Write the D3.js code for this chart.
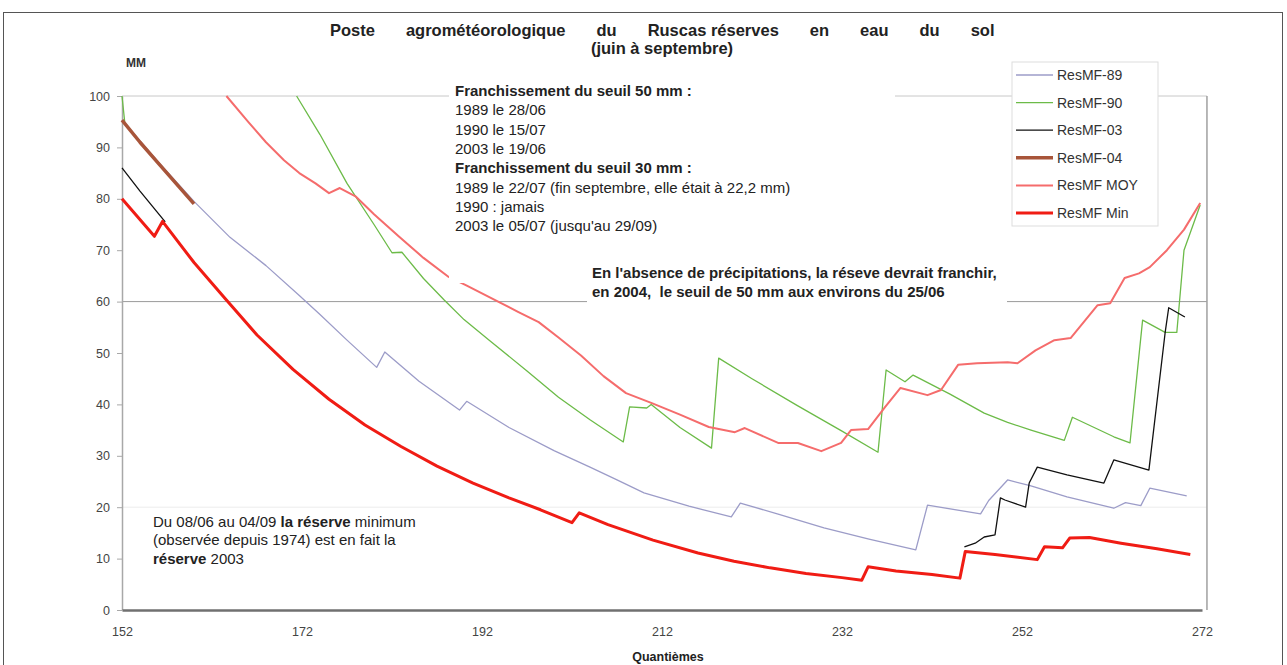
<!DOCTYPE html>
<html>
<head>
<meta charset="utf-8">
<script src="https://cdn.jsdelivr.net/npm/d3@7/dist/d3.min.js"></script>
<style>
  body { margin: 0; background: #fff; }
  svg { display: block; font-family: "Liberation Sans", Arial, sans-serif; }
</style>
</head>
<body>
<div id="graph"></div>
<script>
// day of year (quantième) -> soil water reserve in mm
const ticksX = [152, 172, 192, 212, 232, 252, 272]
const ticksY = [0, 10, 20, 30, 40, 50, 60, 70, 80, 90, 100]

const res89 = [[152,95.3],[156,87.2],[160,79.5],[164,72.5],[168,67],[171.7,61.2],[174,57.5],[177,52.5],[180.3,47.2],[181.2,50.2],[185,44.5],
  [189.5,38.9],[190.3,40.6],[195,35.5],[200,31],[204,27.8],[207,25.3],[210,22.8],[215,20.2],[219.7,18.1],[220.7,20.8],[225,18.6],
  [230,16],[235,13.8],[240.2,11.7],[241.5,20.4],[247.4,18.7],[248.3,21.3],[250.4,25.3],[252.9,24.2],[257,22],[262.2,19.8],
  [263.5,20.9],[265.2,20.3],[266.2,23.7],[270.3,22.2]]

const res90 = [[152,100],[152.3,95],[null,null],[171.4,100],[174,92.5],[177,83],[180,75],[182,69.5],[183.1,69.6],[185.5,64.5],[187.8,60.3],
  [190,56.5],[192.8,52.5],[197,46.5],[200.5,41.4],[204,37],[207.7,32.7],[208.4,39.5],[210.3,39.3],[210.8,40],[214,35.5],[217.5,31.5],
  [218.3,49],[222,45],[227,39.8],[232,34.8],[236,30.7],[236.9,46.7],[239,44.4],[239.9,45.7],[244,42],[247.8,38.3],[250.4,36.5],
  [253,35],[256.7,33],[257.6,37.5],[262.2,33.7],[264,32.5],[265.4,56.4],[267.9,54],[269.2,54],[270,70],[271.8,78.8]]

const res03 = [[152,86],[154,81.5],[156.8,75.5],[null,null],[245.6,12.3],[246.8,13],[247.8,14.2],[249,14.6],[249.6,21.8],[250.1,21.4],
  [252.4,20],[252.8,24.7],[253.7,27.8],[257,26.3],[261.1,24.7],[262.2,29.2],[266.1,27.2],[267.9,53.9],[268.3,58.8],[270.1,57]]

const res04 = [[152,95.3],[154,91],[156,87],[158,83],[160,79]]

const resMoy = [[163.6,100],[166,95],[168,91],[170,87.5],[171.7,85],[173.5,83],[175,81.1],[176.2,82.1],[178,80.4],[180,77],[182.8,72.6],
  [185.5,68.5],[188.3,64.8],[190.2,63.2],[193.9,59.9],[196,58],[198.3,56],[200.5,53],[203,49.5],[205.5,45.5],[208,42.2],[210.8,40.3],
  [214,38],[217.2,35.6],[220.1,34.6],[221.2,35.4],[224.9,32.5],[227.1,32.5],[229.7,30.9],[231.9,32.5],[233,35],[234.9,35.2],
  [236.8,39.5],[238.5,43.2],[241.5,41.8],[243,42.8],[244.9,47.7],[247,48],[250.4,48.2],[251.5,48],[253.5,50.5],[255.6,52.5],
  [257.4,52.9],[260.4,59.3],[261.8,59.7],[263.4,64.6],[265,65.5],[266.2,66.7],[268.1,70],[270,74],[271.8,79.2]]

const resMin = [[152,80],[155.6,72.7],[156.5,75.6],[160,67.6],[163.6,60.3],[167,53.5],[171,46.8],[175,41],[179,36],[183,31.8],
  [187,28],[191,24.7],[195,21.8],[198.5,19.5],[202,17],[202.8,18.9],[206,16.6],[211,13.6],[216,11.1],[220,9.5],[224,8.2],[228,7.1],
  [232,6.3],[234.2,5.8],[234.9,8.4],[238,7.6],[242,6.9],[245.1,6.2],[245.7,11.4],[249,10.8],[253.7,9.8],[254.5,12.3],[256.5,12.1],
  [257.3,14],[259.5,14.1],[263,13],[267,11.9],[270.7,10.8]]

const seriesNames = ["ResMF-89", "ResMF-90", "ResMF-03", "ResMF-04", "ResMF MOY", "ResMF Min"]
const seriesData = [res89, res90, res03, res04, resMoy, resMin]
const seriesColors = ["#9c9cc8", "#6cbb48", "#111111", "#a8553a", "#f56c6c", "#f01c14"]
const seriesWidths = [1.3, 1.3, 1.3, 3.5, 2, 3]

const titleWords = ["Poste", "agrométéorologique", "du", "Ruscas réserves", "en", "eau", "du", "sol"]
const noteSeuil = [
  ["Franchissement du seuil 50 mm :", true],
  ["1989 le 28/06", false],
  ["1990 le 15/07", false],
  ["2003 le 19/06", false],
  ["Franchissement du seuil 30 mm :", true],
  ["1989 le 22/07 (fin septembre, elle était à 22,2 mm)", false],
  ["1990 : jamais", false],
  ["2003 le 05/07 (jusqu'au 29/09)", false]
]
const notePrecip = ["En l'absence de précipitations, la réseve devrait franchir,", "en 2004,  le seuil de 50 mm aux environs du 25/06"]

const width = 1287
const height = 665

const svg = d3.select("#graph")
  .append("svg")
  .attr("width", width)
  .attr("height", height)

// outer frame
svg.append("rect").attr("x", 3.5).attr("y", 12.5).attr("width", 1279).attr("height", 700)
  .attr("fill", "none").attr("stroke", "#555").attr("stroke-width", 1)

const x = d3.scaleLinear().domain([152, 272]).range([122, 1202])
const y = d3.scaleLinear().domain([0, 100]).range([610, 96])

// grid lines
svg.append("line").attr("x1", x(152)).attr("x2", x(272.55)).attr("y1", y(100)).attr("y2", y(100)).attr("stroke", "#c8c8c8")
svg.append("line").attr("x1", x(152)).attr("x2", x(272.55)).attr("y1", y(20)).attr("y2", y(20)).attr("stroke", "#ececec")
svg.append("line").attr("x1", x(152)).attr("x2", x(272.55)).attr("y1", y(60)).attr("y2", y(60)).attr("stroke", "#9a9a9a")
// right edge of plot area
svg.append("line").attr("x1", x(272.55)).attr("x2", x(272.55)).attr("y1", y(100)).attr("y2", y(0)).attr("stroke", "#a0a0a0").attr("stroke-width", 1.5)

// y axis
const yAxis = svg.append("g").attr("transform", "translate(" + x(152) + ",0)")
  .call(d3.axisLeft(y).tickValues(ticksY).tickSize(5).tickSizeOuter(0).tickPadding(7))
yAxis.select(".domain").attr("stroke", "#a8a8a8").attr("stroke-width", 1.5)
yAxis.selectAll(".tick line").attr("stroke", "#a8a8a8")
yAxis.selectAll("text").attr("font-size", 12.5).attr("fill", "#444").attr("font-family", "Liberation Sans, Arial, sans-serif")

// x axis
const xAxis = svg.append("g").attr("transform", "translate(0," + y(0) + ")")
  .call(d3.axisBottom(x).tickValues(ticksX).tickSize(0).tickPadding(17).tickFormat(d3.format("d")))
xAxis.select(".domain").attr("stroke", "#707070").attr("stroke-width", 2.5)
xAxis.selectAll("text").attr("font-size", 12.5).attr("fill", "#444").attr("font-family", "Liberation Sans, Arial, sans-serif")

// series
const line = d3.line()
  .defined(d => d[0] !== null)
  .x(d => x(d[0]))
  .y(d => y(d[1]))

seriesData.forEach((data, i) => {
  svg.append("path").datum(data)
    .attr("fill", "none")
    .attr("stroke", seriesColors[i])
    .attr("stroke-width", seriesWidths[i])
    .attr("stroke-linejoin", "round")
    .attr("d", line)
})

// title, words spread across the line with wide gaps
const title = svg.append("text").attr("x", 330).attr("y", 36)
  .attr("font-size", 16.5).attr("font-weight", "bold").attr("fill", "#222")
titleWords.forEach((w, i) => {
  title.append("tspan").attr("dx", i === 0 ? 0 : 31).text(w)
})
svg.append("text").attr("x", 662).attr("y", 54).attr("text-anchor", "middle")
  .attr("font-size", 16.5).attr("font-weight", "bold").attr("fill", "#222").text("(juin à septembre)")

svg.append("text").attr("x", 126).attr("y", 67).attr("font-size", 12).attr("font-weight", "bold").attr("fill", "#333").text("MM")

// note on thresholds
svg.append("rect").attr("x", 449).attr("y", 80).attr("width", 446).attr("height", 203).attr("fill", "#fff")
noteSeuil.forEach((n, i) => {
  svg.append("text").attr("x", 455).attr("y", 96 + i * 19.3)
    .attr("font-size", 15).attr("font-weight", n[1] ? "bold" : "normal").attr("fill", "#222")
    .text(n[0])
})

// note on 2004
svg.append("rect").attr("x", 587).attr("y", 260).attr("width", 420).attr("height", 44).attr("fill", "#fff")
notePrecip.forEach((t, i) => {
  svg.append("text").attr("x", 592).attr("y", 278 + i * 19)
    .attr("font-size", 15).attr("font-weight", "bold").attr("fill", "#222")
    .style("white-space", "pre").text(t)
})

// note on minimum
const minNote = svg.append("g").attr("font-size", 15).attr("fill", "#222")
const l1 = minNote.append("text").attr("x", 153).attr("y", 527)
l1.append("tspan").text("Du 08/06 au 04/09 ")
l1.append("tspan").attr("font-weight", "bold").text("la réserve")
l1.append("tspan").text(" minimum")
minNote.append("text").attr("x", 153).attr("y", 545).text("(observée depuis 1974) est en fait la")
const l3 = minNote.append("text").attr("x", 153).attr("y", 564)
l3.append("tspan").attr("font-weight", "bold").text("réserve")
l3.append("tspan").text(" 2003")

// x axis title
svg.append("text").attr("x", 668).attr("y", 661).attr("text-anchor", "middle")
  .attr("font-size", 12.5).attr("font-weight", "bold").attr("fill", "#222").text("Quantièmes")

// legend
const legend = svg.append("g").attr("transform", "translate(1012,62)")
legend.append("rect").attr("width", 146).attr("height", 164).attr("fill", "#fff").attr("stroke", "#ddd")
seriesNames.forEach((name, i) => {
  const g = legend.append("g").attr("transform", "translate(0," + (13 + i * 27.6) + ")")
  g.append("line").attr("x1", 4).attr("x2", 41).attr("y1", 0).attr("y2", 0)
    .attr("stroke", seriesColors[i]).attr("stroke-width", seriesWidths[i])
  g.append("text").attr("x", 45).attr("y", 5).attr("font-size", 14).attr("fill", "#333").text(name)
})
</script>
</body>
</html>
